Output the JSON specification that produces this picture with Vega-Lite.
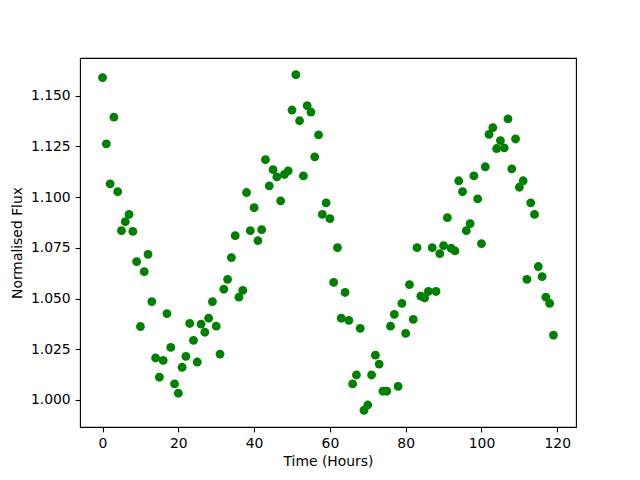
{
  "$schema": "https://vega.github.io/schema/vega-lite/v6.json",
  "width": 496,
  "height": 369,
  "autosize": {"type": "none"},
  "padding": {"left": 80, "top": 58, "right": 64, "bottom": 53},
  "background": "white",
  "config": {
    "view": {"stroke": "black", "strokeWidth": 1.1},
    "axis": {
      "domain": false,
      "grid": false,
      "ticks": true,
      "tickColor": "black",
      "tickSize": 4.9,
      "tickWidth": 1.1,
      "labelFont": "DejaVu Sans",
      "labelFontSize": 13.9,
      "labelColor": "black",
      "labelPadding": 4.9,
      "titleFont": "DejaVu Sans",
      "titleFontSize": 13.9,
      "titleFontWeight": "normal",
      "titleColor": "black"
    }
  },
  "data": {
    "values": [
      {"t": 0, "f": 1.159}, {"t": 1, "f": 1.1263}, {"t": 2, "f": 1.1066}, {"t": 3, "f": 1.1395},
      {"t": 4, "f": 1.1027}, {"t": 5, "f": 1.0835}, {"t": 6, "f": 1.0879}, {"t": 7, "f": 1.0915},
      {"t": 8, "f": 1.0831}, {"t": 9, "f": 1.0682}, {"t": 10, "f": 1.0362}, {"t": 11, "f": 1.0633},
      {"t": 12, "f": 1.0718}, {"t": 13, "f": 1.0485}, {"t": 14, "f": 1.0207}, {"t": 15, "f": 1.0112},
      {"t": 16, "f": 1.0195}, {"t": 17, "f": 1.0426}, {"t": 18, "f": 1.0259}, {"t": 19, "f": 1.0079},
      {"t": 20, "f": 1.0033}, {"t": 21, "f": 1.0161}, {"t": 22, "f": 1.0215}, {"t": 23, "f": 1.0377},
      {"t": 24, "f": 1.0294}, {"t": 25, "f": 1.0187}, {"t": 26, "f": 1.0374}, {"t": 27, "f": 1.0334},
      {"t": 28, "f": 1.0403}, {"t": 29, "f": 1.0485}, {"t": 30, "f": 1.0364}, {"t": 31, "f": 1.0226},
      {"t": 32, "f": 1.0546}, {"t": 33, "f": 1.0595}, {"t": 34, "f": 1.0702}, {"t": 35, "f": 1.081},
      {"t": 36, "f": 1.0507}, {"t": 37, "f": 1.054}, {"t": 38, "f": 1.1023}, {"t": 39, "f": 1.0835},
      {"t": 40, "f": 1.0948}, {"t": 41, "f": 1.0786}, {"t": 42, "f": 1.084}, {"t": 43, "f": 1.1185},
      {"t": 44, "f": 1.1056}, {"t": 45, "f": 1.1136}, {"t": 46, "f": 1.11}, {"t": 47, "f": 1.0982},
      {"t": 48, "f": 1.1112}, {"t": 49, "f": 1.113}, {"t": 50, "f": 1.143}, {"t": 51, "f": 1.1604},
      {"t": 52, "f": 1.1377}, {"t": 53, "f": 1.1105}, {"t": 54, "f": 1.1451}, {"t": 55, "f": 1.142},
      {"t": 56, "f": 1.1199}, {"t": 57, "f": 1.1307}, {"t": 58, "f": 1.0915}, {"t": 59, "f": 1.0972},
      {"t": 60, "f": 1.0894}, {"t": 61, "f": 1.058}, {"t": 62, "f": 1.0751}, {"t": 63, "f": 1.0403},
      {"t": 64, "f": 1.053}, {"t": 65, "f": 1.0392}, {"t": 66, "f": 1.0079}, {"t": 67, "f": 1.0123},
      {"t": 68, "f": 1.0353}, {"t": 69, "f": 0.9949}, {"t": 70, "f": 0.9975}, {"t": 71, "f": 1.0123},
      {"t": 72, "f": 1.0221}, {"t": 73, "f": 1.0177}, {"t": 74, "f": 1.0043}, {"t": 75, "f": 1.0043},
      {"t": 76, "f": 1.0364}, {"t": 77, "f": 1.0422}, {"t": 78, "f": 1.0067}, {"t": 79, "f": 1.0476},
      {"t": 80, "f": 1.0328}, {"t": 81, "f": 1.0569}, {"t": 82, "f": 1.0397}, {"t": 83, "f": 1.0751},
      {"t": 84, "f": 1.0512}, {"t": 85, "f": 1.0503}, {"t": 86, "f": 1.0535}, {"t": 87, "f": 1.0751},
      {"t": 88, "f": 1.0535}, {"t": 89, "f": 1.0722}, {"t": 90, "f": 1.0761}, {"t": 91, "f": 1.0899},
      {"t": 92, "f": 1.0748}, {"t": 93, "f": 1.0735}, {"t": 94, "f": 1.1081}, {"t": 95, "f": 1.1027},
      {"t": 96, "f": 1.0835}, {"t": 97, "f": 1.0869}, {"t": 98, "f": 1.1105}, {"t": 99, "f": 1.0992},
      {"t": 100, "f": 1.0771}, {"t": 101, "f": 1.115}, {"t": 102, "f": 1.131}, {"t": 103, "f": 1.1343},
      {"t": 104, "f": 1.124}, {"t": 105, "f": 1.1279}, {"t": 106, "f": 1.1243}, {"t": 107, "f": 1.1386},
      {"t": 108, "f": 1.114}, {"t": 109, "f": 1.1287}, {"t": 110, "f": 1.1049}, {"t": 111, "f": 1.1081},
      {"t": 112, "f": 1.0595}, {"t": 113, "f": 1.0972}, {"t": 114, "f": 1.0915}, {"t": 115, "f": 1.0658},
      {"t": 116, "f": 1.0608}, {"t": 117, "f": 1.0507}, {"t": 118, "f": 1.0476}, {"t": 119, "f": 1.032}
    ]
  },
  "mark": {"type": "point", "filled": true, "opacity": 1, "size": 78, "color": "#008000"},
  "encoding": {
    "x": {
      "field": "t", "type": "quantitative",
      "scale": {"domain": [-5.95, 124.95], "nice": false, "zero": false},
      "axis": {"title": "Time (Hours)", "values": [0, 20, 40, 60, 80, 100, 120], "format": "d", "titlePadding": 4}
    },
    "y": {
      "field": "f", "type": "quantitative",
      "scale": {"domain": [0.98665, 1.16865], "nice": false, "zero": false},
      "axis": {"title": "Normalised Flux", "values": [1.0, 1.025, 1.05, 1.075, 1.1, 1.125, 1.15], "format": ".3f", "titlePadding": 6}
    }
  }
}
